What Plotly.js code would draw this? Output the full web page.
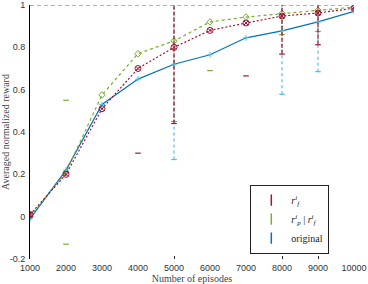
<!DOCTYPE html>
<html><head><meta charset="utf-8">
<script src="https://cdn.plot.ly/plotly-3.0.1.min.js"></script>
<style>html,body{margin:0;padding:0;background:#fff}#chart{width:368px;height:284px}</style>
</head><body><div id="chart"></div>
<script>
const episodes = [1000,2000,3000,4000,5000,6000,7000,8000,9000,10000];
const xTicks = [1000,2000,3000,4000,5000,6000,7000,8000,9000,10000];
const yTicks = [-0.2,0,0.2,0.4,0.6,0.8,1];
const yTickText = ['-0.2','0','0.2','0.4','0.6','0.8','1'];
const original = [-0.01,0.22,0.53,0.65,0.72,0.765,0.845,0.878,0.92,0.97];
const rf = [0.01,0.20,0.51,0.70,0.80,0.88,0.915,0.948,0.962,0.985];
const rpf = [0.0,0.21,0.575,0.77,0.83,0.92,0.943,0.96,0.975,0.99];
const errOriginal = [0,0,0,0,0.45,0,0,0.30,0.235,0];
const errRf = [0.01,0,0,0.40,0.36,0,0.25,0.18,0.15,0];
const errRpf = [0,0.34,0,0,0.38,0.23,0,0.10,0.10,0];
const barShownOriginal = [0,0,0,0,1,0,0,1,1,0];
const barShownRf = [0,0,0,0,1,0,0,1,1,0];
const barShownRpf = [0,0,0,0,1,0,0,1,1,0];
const names = ['<i>r</i><sup><i>i</i></sup><sub><i>f</i></sub>',
  '<i>r</i><sup><i>i</i></sup><sub><i>p</i></sub> | <i>r</i><sup><i>i</i></sup><sub><i>f</i></sub>',
  'original'];

function errTraces(y, e, shown, color, dash){
  const sx=[], sy=[], cx=[], cy=[];
  for(let i=0;i<y.length;i++){
    if(e[i]<=0) continue;
    if(shown[i]){ sx.push(episodes[i],episodes[i],null); sy.push(y[i]-e[i],y[i]+e[i],null); }
    cx.push(episodes[i],episodes[i]); cy.push(y[i]-e[i],y[i]+e[i]);
  }
  return [
    {x:sx,y:sy,mode:'lines',line:{color:color,width:1.2,dash:dash},showlegend:false,hoverinfo:'skip'},
    {x:cx,y:cy,mode:'markers',marker:{symbol:'line-ew-open',size:4,color:color,line:{color:color,width:1.2}},showlegend:false,hoverinfo:'skip'}
  ];
}
const cB='#0072BD', cBl='#4DBEEE', cR='#A2142F', cG='#77AC30';
const data = [].concat(
  errTraces(original, errOriginal, barShownOriginal, cBl, '3px,3px'),
  [{x:episodes,y:original,mode:'lines+markers',line:{color:cB,width:1.2},marker:{symbol:'cross-thin-open',size:4,color:cBl,line:{color:cBl,width:1}},showlegend:false}],
  errTraces(rpf, errRpf, barShownRpf, cG, '1px,3px'),
  [{x:episodes,y:rpf,mode:'lines+markers',line:{color:cG,width:1.2,dash:'dot'},marker:{symbol:'diamond-open',size:5,color:cG,line:{color:cG,width:1}},showlegend:false}],
  errTraces(rf, errRf, barShownRf, cR, '4px,2px'),
  [{x:episodes,y:rf,mode:'lines+markers',line:{color:cR,width:1.2,dash:'2px,2px'},marker:{symbol:'circle-x-open',size:6,color:cR,line:{color:cR,width:1}},showlegend:false}],
  [
    {x:[null],y:[null],mode:'markers',name:names[0],marker:{symbol:'line-ns-open',size:8,color:cR,line:{color:cR,width:1.5}}},
    {x:[null],y:[null],mode:'markers',name:names[1],marker:{symbol:'line-ns-open',size:8,color:cG,line:{color:cG,width:1.5}}},
    {x:[null],y:[null],mode:'markers',name:names[2],marker:{symbol:'line-ns-open',size:8,color:cB,line:{color:cB,width:1.5}}}
  ]
);
const layout = {
  width:368,height:284,
  margin:{l:30,r:14,t:5,b:25},
  paper_bgcolor:'#fff',plot_bgcolor:'#fff',
  showlegend:true,
  font:{family:'Liberation Sans, Arial, sans-serif',size:9,color:'#222'},
  xaxis:{range:[1000,10000],tickvals:xTicks,ticktext:xTicks.map(String),showgrid:false,zeroline:false,showline:false,ticks:'',
    tickfont:{size:9,color:'#333'},ticklabelstandoff:2,ticklabeloverflow:'allow',
    title:{text:'Number of episodes',font:{family:'Liberation Serif, DejaVu Serif, serif',size:10,color:'#444'},standoff:1}},
  xaxis2:{range:[1000,10000],overlaying:'x',anchor:'y',side:'bottom',tickvals:[5000,8000,9000],showticklabels:false,ticks:'inside',ticklen:3,tickcolor:'#222',showgrid:false,zeroline:false,showline:false},
  yaxis:{range:[-0.2,1],tickvals:yTicks,ticktext:yTickText,showgrid:false,zeroline:false,showline:true,linecolor:'#000',linewidth:1,ticks:'',
    tickfont:{size:9,color:'#333'},ticklabelstandoff:2,ticklabeloverflow:'allow',
    title:{text:'Averaged normalized reward',font:{family:'Liberation Serif, DejaVu Serif, serif',size:10,color:'#444'},standoff:2}},
  shapes:[{type:'line',xref:'paper',yref:'y',x0:0,x1:1,y0:1,y1:1,line:{color:'#666',width:1,dash:'4px,3px'}}],
  legend:{x:0.68,y:0.293,xanchor:'left',yanchor:'top',bgcolor:'#fff',bordercolor:'#222',borderwidth:1,
    font:{family:'Liberation Serif, DejaVu Serif, serif',size:10,color:'#222'},itemwidth:30,tracegroupgap:0}
};
data.push({x:[1000],y:[null],xaxis:'x2',yaxis:'y',mode:'markers',showlegend:false,hoverinfo:'skip'});
Plotly.newPlot('chart',data,layout,{displayModeBar:false,staticPlot:true});
</script></body></html>
